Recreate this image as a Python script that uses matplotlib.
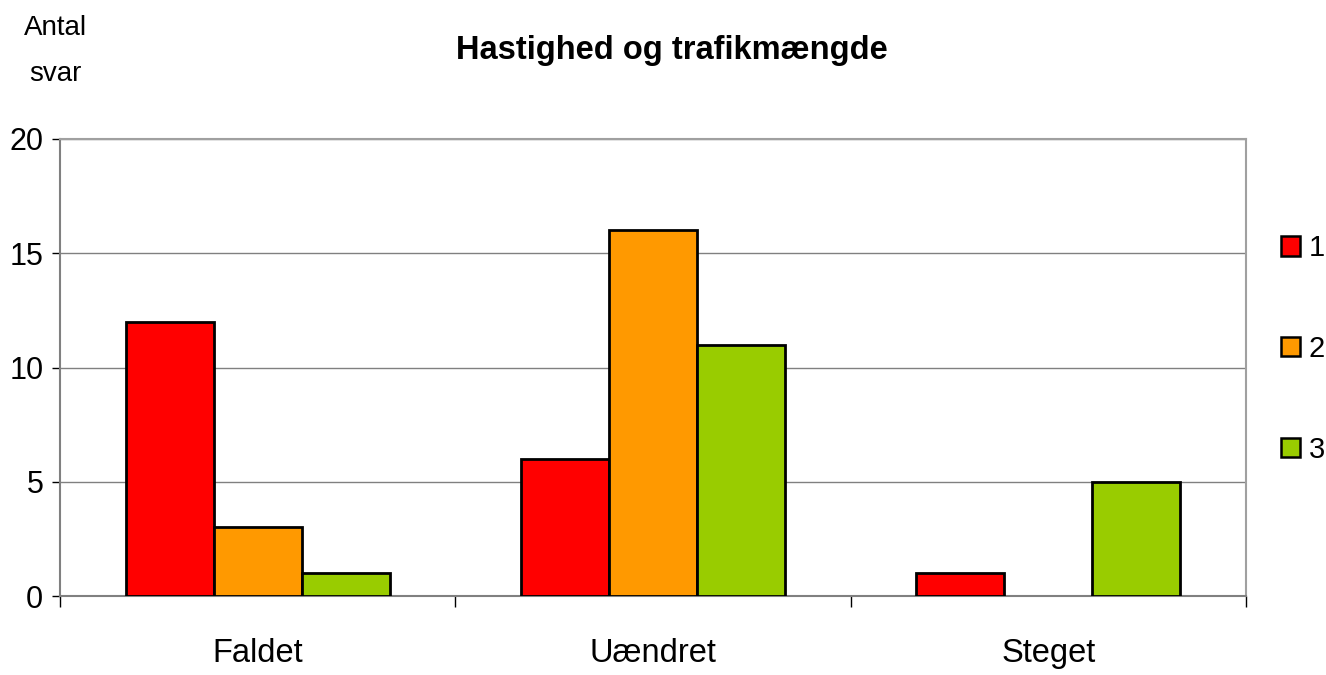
import matplotlib
matplotlib.use("Agg")
import matplotlib.pyplot as plt
import numpy as np
from matplotlib.patches import Patch

plt.rcParams['font.family'] = ['Liberation Sans', 'DejaVu Sans']

categories = ["Faldet", "Uændret", "Steget"]
series_names = ["1", "2", "3"]
values_1 = [12, 6, 1]
values_2 = [3, 16, 0]
values_3 = [1, 11, 5]
colors = ["#ff0000", "#ff9900", "#99cc00"]
yticks = [0, 5, 10, 15, 20]

fig = plt.figure(figsize=(13.26, 6.75), dpi=100)
ax = fig.add_axes([60/1326, 79/675, (1246-60)/1326, (596-139)/675])

x = np.arange(len(categories))
w = 0.2226
for i, (vals, c) in enumerate(zip([values_1, values_2, values_3], colors)):
    bars = ax.bar(x + (i - 1) * w, vals, width=w, color=c, edgecolor="black", linewidth=2.0, zorder=3)
    for b, v in zip(bars, vals):
        if v == 0:
            b.set_linewidth(0)

ax.set_xlim(-0.5, 2.5)
ax.set_ylim(0, 20)
ax.set_yticks(yticks)
ax.set_yticklabels([str(t) for t in yticks], fontsize=22)
ax.yaxis.grid(True, color="#808080", linewidth=1.0, zorder=0)
ax.set_xticks([-0.5, 0.5, 1.5, 2.5])
ax.set_xticklabels([])
ax.set_xticks(x, minor=True)
ax.set_xticklabels(categories, minor=True, fontsize=23.5)
ax.tick_params(axis='x', which='minor', length=0, pad=30)
ax.tick_params(axis='x', which='major', length=8, width=1, color="black", direction='out')
ax.tick_params(axis='y', length=6, width=1, color="black", direction='out', pad=6)
for s in ax.spines.values():
    s.set_color("#a0a0a0")
    s.set_linewidth(1.5)
ax.spines['left'].set_color("#808080")
ax.spines['bottom'].set_color("#808080")

fig.text(672/1326, 1 - 50/675, "Hastighed og trafikmængde", ha="center", va="center",
         fontsize=23.5, fontweight="bold")
fig.text(55/1326, 1 - 51/675, "Antal\nsvar", ha="center", va="center", fontsize=20,
         linespacing=2.0)

handles = [Patch(facecolor=c, edgecolor="black", linewidth=1.8) for c in colors]
fig.legend(handles, series_names, loc="center left", bbox_to_anchor=(1281/1326, 1 - 349/675),
           frameon=False, fontsize=21, handlelength=0.65, handleheight=0.65,
           labelspacing=2.5, handletextpad=0.3, borderpad=0, borderaxespad=0)

fig.savefig("out.png", dpi=100)
